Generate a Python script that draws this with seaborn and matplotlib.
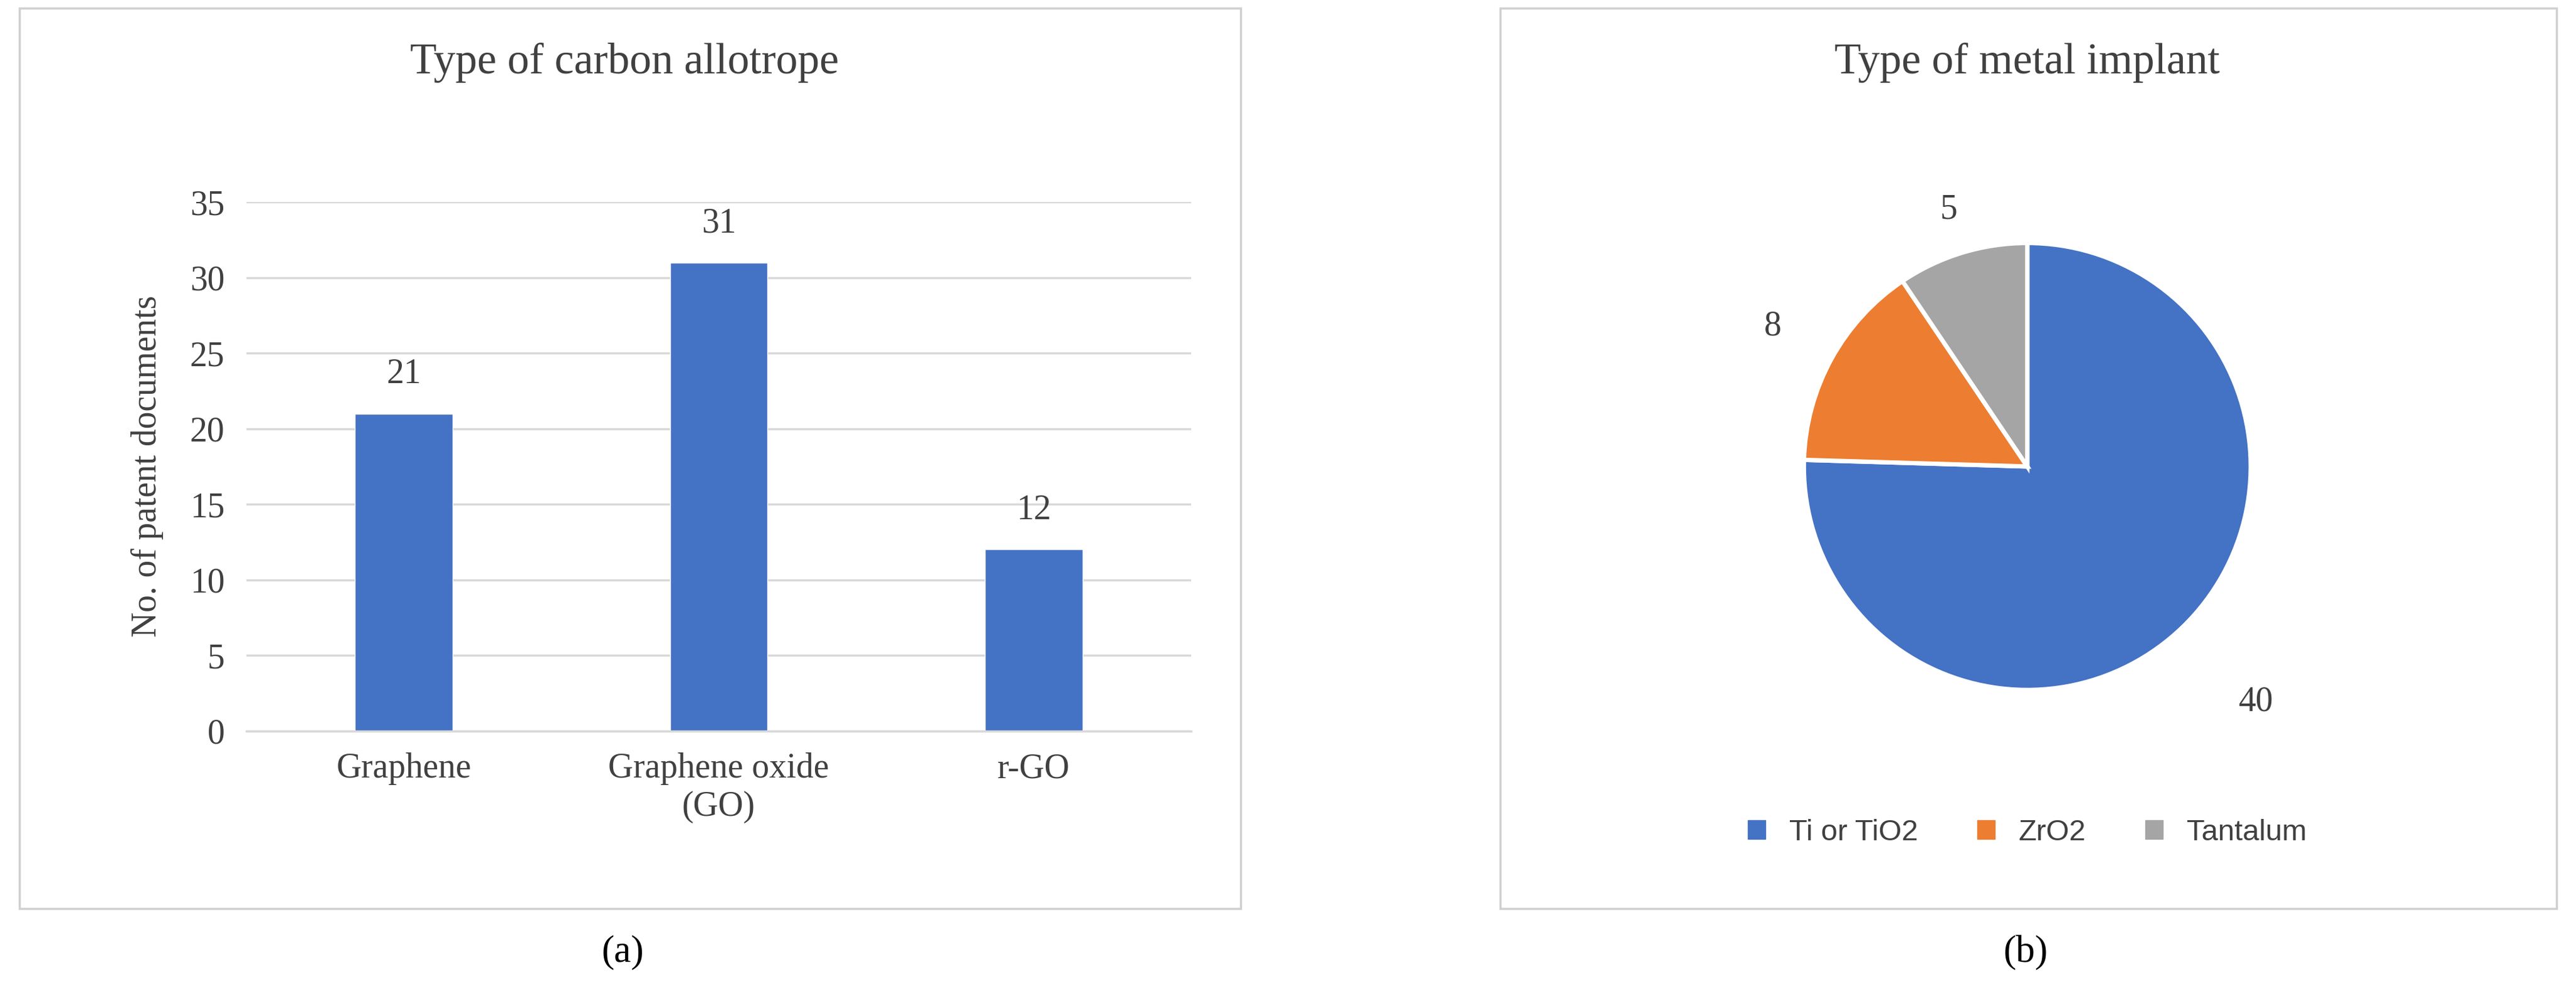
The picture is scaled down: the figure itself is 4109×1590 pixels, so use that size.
import matplotlib
matplotlib.use("Agg")
import matplotlib.pyplot as plt
import matplotlib.patches as mpatches
import seaborn as sns
import numpy as np
import pandas as pd

categories = ["Graphene", "Graphene oxide\n(GO)", "r-GO"]
counts = [21, 31, 12]
metals = ["Ti or TiO2", "ZrO2", "Tantalum"]
metal_counts = [40, 8, 5]
yticks = [0, 5, 10, 15, 20, 25, 30, 35]

sns.set_theme(style="white")
plt.rcParams['font.family'] = ['Liberation Serif', 'DejaVu Serif']

fig = plt.figure(figsize=(41.09, 15.90), dpi=100)
W, H = 1568, 607
def fx(x): return x / W
def fy(y): return 1 - y / H

# frames
for x0, x1 in [(12, 755), (913, 1556)]:
    fig.patches.append(mpatches.Rectangle((fx(x0), fy(553)), fx(x1) - fx(x0), fy(5) - fy(553),
                                          transform=fig.transFigure, fill=False,
                                          edgecolor="#d0d0d0", linewidth=2.5))

blue = "#4472C4"
ax = fig.add_axes([fx(150), fy(445), fx(755) - fx(150) - fx(30), fy(123) - fy(445)])
df = pd.DataFrame({"cat": categories, "n": counts})
sns.barplot(data=df, x="cat", y="n", color=blue, width=0.31, saturation=1, ax=ax)
ax.set_ylim(0, 35)
ax.set_yticks(yticks)
ax.yaxis.grid(True, color="#d9d9d9", linewidth=2.5)
ax.set_axisbelow(True)
for s in ["top", "right", "left"]:
    ax.spines[s].set_visible(False)
ax.spines["bottom"].set_color("#d9d9d9")
ax.spines["bottom"].set_linewidth(2.5)
ax.tick_params(axis="both", length=0, labelsize=40, colors="#404040", pad=25)
ax.set_xlabel("")
ax.set_ylabel("No. of patent documents", fontsize=40, color="#404040", labelpad=30)
for i, v in enumerate(counts):
    ax.text(i, v + 1.5, str(v), ha="center", va="bottom", fontsize=40, color="#404040")
fig.text(fx(380), fy(38), "Type of carbon allotrope", ha="center", va="center",
         fontsize=50, color="#404040")
fig.text(fx(379), fy(580), "(a)", ha="center", va="center", fontsize=44, color="black")
fig.text(fx(1233), fy(580), "(b)", ha="center", va="center", fontsize=44, color="black")

# pie
r = 136 / W * 41.09 * 100  # px
wfig = 2 * r / 4109 * 1.0
hfig = 2 * r / 1590
cx, cy = fx(1234), fy(284)
pax = fig.add_axes([cx - wfig / 2, cy - hfig / 2, wfig, hfig])
colors = [blue, "#ED7D31", "#A5A5A5"]
wedges, _ = pax.pie(metal_counts, colors=colors, startangle=90, counterclock=False,
                    wedgeprops=dict(edgecolor="white", linewidth=5))
pax.set_xlim(-1, 1); pax.set_ylim(-1, 1); pax.set_aspect("equal")
label_dist = [1.47, 1.3, 1.2]
for w, v, d in zip(wedges, metal_counts, label_dist):
    ang = np.deg2rad((w.theta1 + w.theta2) / 2)
    pax.text(d * np.cos(ang), d * np.sin(ang), str(v), ha="center", va="center",
             fontsize=40, color="#404040", clip_on=False)
fig.text(fx(1234), fy(38), "Type of metal implant", ha="center", va="center",
         fontsize=50, color="#404040")
handles = [mpatches.Patch(color=c, label=m) for c, m in zip(colors, metals)]
fig.legend(handles=handles, loc="center", bbox_to_anchor=(fx(1234), fy(507)), ncol=3,
           frameon=False, prop={"family": "Liberation Sans", "size": 34},
           labelcolor="#404040", handlelength=0.6, handleheight=0.6, columnspacing=2.0)

fig.savefig("out.png", dpi=100, facecolor="white")
